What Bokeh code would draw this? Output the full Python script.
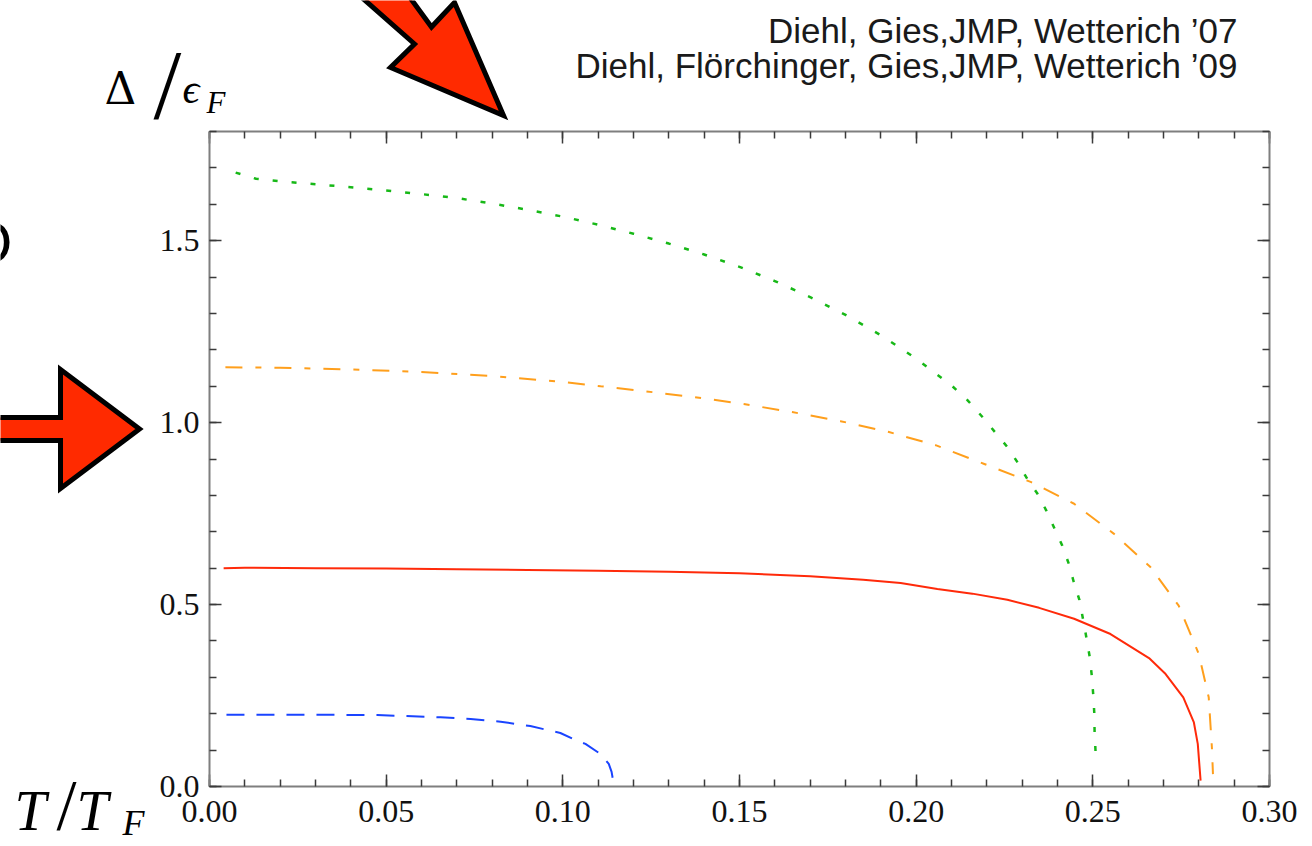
from bokeh.plotting import figure
from bokeh.models import Range1d, FixedTicker, LinearAxis, Label, PolyAnnotation
from bokeh.embed import file_html
from bokeh.resources import INLINE

# ---------------- data ----------------
x_ticks = [0.0, 0.05, 0.10, 0.15, 0.20, 0.25, 0.30]
x_tick_labels = ["0.00", "0.05", "0.10", "0.15", "0.20", "0.25", "0.30"]
y_ticks = [0.0, 0.5, 1.0, 1.5]
y_tick_labels = ["0.0", "0.5", "1.0", "1.5"]

blue_T = [0.0048, 0.02, 0.035, 0.0475, 0.0654, 0.0739, 0.0824, 0.0908, 0.0993,
          0.1031, 0.1064, 0.1107, 0.113, 0.1138, 0.1142]
blue_D = [0.1974, 0.1972, 0.1969, 0.1965, 0.190, 0.1855, 0.178, 0.166, 0.147,
          0.130, 0.117, 0.089, 0.062, 0.040, 0.018]

red_T = [0.004, 0.01, 0.03, 0.05, 0.07, 0.09, 0.11, 0.13, 0.15, 0.17, 0.185,
         0.1956, 0.206, 0.2159, 0.2258, 0.2348, 0.2447, 0.255, 0.2659, 0.2706,
         0.2756, 0.2786, 0.2797, 0.2805]
red_D = [0.600, 0.601, 0.600, 0.599, 0.597, 0.595, 0.593, 0.590, 0.586, 0.578,
         0.568, 0.559, 0.543, 0.530, 0.513, 0.491, 0.461, 0.419, 0.353, 0.309,
         0.245, 0.176, 0.117, 0.016]

orange_T = [0.0045, 0.02, 0.04, 0.06, 0.08, 0.10, 0.1107, 0.1234, 0.1374, 0.1512,
            0.1649, 0.1786, 0.1923, 0.2055, 0.2191, 0.2324, 0.2447, 0.2559, 0.2663,
            0.2743, 0.2800, 0.2828, 0.2837, 0.2840]
orange_D = [1.152, 1.151, 1.146, 1.139, 1.128, 1.112, 1.100, 1.086, 1.070, 1.051,
            1.029, 1.004, 0.974, 0.938, 0.887, 0.837, 0.777, 0.695, 0.603,
            0.497, 0.364, 0.245, 0.107, 0.034]

green_T = [0.0074, 0.0132, 0.02, 0.03, 0.04, 0.05, 0.06, 0.07, 0.08, 0.09, 0.10,
           0.11, 0.12, 0.13, 0.14, 0.15, 0.16, 0.17, 0.18, 0.19, 0.20, 0.21,
           0.2145, 0.2187, 0.2223, 0.2258, 0.2286, 0.2314, 0.2343, 0.2368, 0.2392,
           0.2413, 0.2432, 0.2446, 0.2462, 0.2472, 0.2482, 0.2491, 0.2497, 0.2501,
           0.2504, 0.2505, 0.2508]
green_D = [1.687, 1.670, 1.663, 1.655, 1.647, 1.638, 1.628, 1.617, 1.602, 1.585, 1.566,
           1.544, 1.519, 1.492, 1.462, 1.428, 1.389, 1.345, 1.296, 1.240, 1.176, 1.102,
           1.062, 1.016, 0.974, 0.933, 0.892, 0.846, 0.805, 0.759, 0.708,
           0.663, 0.612, 0.562, 0.513, 0.461, 0.408, 0.357, 0.305, 0.254,
           0.204, 0.149, 0.090]

citations = ["Diehl, Gies,JMP, Wetterich \u201907",
             "Diehl, Fl\u00f6rchinger, Gies,JMP, Wetterich \u201909"]

# ---------------- layout ----------------
W, H = 1312, 846
FL, FR, FT, FB = 209, 1269, 131, 786          # pixel box of the data axes
X0, X1, Y0, Y1 = 0.0, 0.30, 0.0, 1.8


def dx(px):
    return X0 + (px - FL) / (FR - FL) * (X1 - X0)


def dy(py):
    return Y0 + (FB - py) / (FB - FT) * (Y1 - Y0)


# the frame spans the whole canvas; the axes sit at fixed data locations
p = figure(width=W, height=H,
           x_range=Range1d(dx(0), dx(W)), y_range=Range1d(dy(H), dy(0)),
           output_backend="svg", toolbar_location=None,
           x_axis_type=None, y_axis_type=None,
           min_border=0, min_border_left=0, min_border_right=0,
           min_border_top=0, min_border_bottom=0)
p.outline_line_color = None
p.xgrid.visible = False
p.ygrid.visible = False
p.background_fill_color = "white"
p.border_fill_color = "white"

x_minor = [round(i * 0.01, 2) for i in range(31)]
y_minor = [round(i * 0.1, 1) for i in range(19)]


def style(ax, ticks, labels, show):
    ax.axis_line_color = "#7f7f7f"
    ax.axis_line_width = 2
    ax.major_tick_in = 12
    ax.major_tick_out = 0
    ax.minor_tick_in = 7
    ax.minor_tick_out = 0
    ax.major_tick_line_color = "#3a3a3a"
    ax.minor_tick_line_color = "#3a3a3a"
    ax.major_tick_line_width = 1.5
    ax.minor_tick_line_width = 1.5
    ax.major_label_text_font = "Liberation Serif"
    ax.major_label_text_color = "#111111"
    if show:
        ax.major_label_overrides = {t: l for t, l in zip(ticks, labels)}
        ax.major_label_text_font_size = "32px"
    else:
        ax.major_label_overrides = {t: "" for t in ticks}
        ax.major_label_text_font_size = "0px"


xb = LinearAxis(ticker=FixedTicker(ticks=x_ticks, minor_ticks=x_minor),
                fixed_location=Y0, bounds=(X0, X1))
style(xb, x_ticks, x_tick_labels, True)
xb.major_label_standoff = 14
p.add_layout(xb, "below")

xa = LinearAxis(ticker=FixedTicker(ticks=x_ticks, minor_ticks=x_minor),
                fixed_location=Y1, bounds=(X0, X1))
style(xa, x_ticks, x_tick_labels, False)
p.add_layout(xa, "above")

yl = LinearAxis(ticker=FixedTicker(ticks=y_ticks, minor_ticks=y_minor),
                fixed_location=X0, bounds=(Y0, Y1))
style(yl, y_ticks, y_tick_labels, True)
yl.major_label_standoff = 10
p.add_layout(yl, "left")

yr = LinearAxis(ticker=FixedTicker(ticks=y_ticks, minor_ticks=y_minor),
                fixed_location=X1, bounds=(Y0, Y1))
style(yr, y_ticks, y_tick_labels, False)
p.add_layout(yr, "right")

# ---------------- curves ----------------
p.line(blue_T, blue_D, line_color="#1a44ff", line_width=2, line_dash="18 12")
p.line(red_T, red_D, line_color="#ff2a0a", line_width=2)
p.line(orange_T, orange_D, line_color="#ff9f1c", line_width=2, line_dash="17 13 6 13")
p.line(green_T, green_D, line_color="#17b817", line_width=2.5, line_dash="5 14")


# ---------------- texts ----------------
def lab(px, baseline, text, font, size, style="normal", align="left", color="#000000"):
    # position given as the pixel baseline; label anchored at its middle
    mid = baseline - 0.34 * size
    p.add_layout(Label(x=dx(px), y=dy(mid), text=text, text_font=font,
                       text_font_size=f"{size}px", text_font_style=style,
                       text_align=align, text_baseline="middle",
                       text_color=color))


lab(104, 103, "\u0394", "DejaVu Serif", 44)
lab(153, 118, "/", "Liberation Serif", 100)
lab(182, 103, "\u03f5", "Liberation Serif", 42, "italic")
lab(206, 113, "F", "Liberation Serif", 31, "italic")

lab(14, 829, "T", "Liberation Serif", 57, "italic")
lab(56, 829, "/", "Liberation Serif", 72)
lab(76, 829, "T", "Liberation Serif", 57, "italic")
lab(122, 835, "F", "Liberation Serif", 36, "italic")

lab(1237, 42, citations[0], "Liberation Sans", 35, align="right", color="#1a1a1a")
lab(1237, 77, citations[1], "Liberation Sans", 35, align="right", color="#1a1a1a")

# partial letter at the left edge
lab(12, 262, "O", "Liberation Sans", 60, align="right")

# ---------------- arrows ----------------
arrow_fill = "#ff2a00"
top_px = [(342, -20), (414, 43.5), (390, 67), (503, 115), (454, 2), (431, 26.5), (397, -20)]
left_px = [(-10, 417), (60, 417), (60, 369), (139, 428.5), (60, 488), (60, 440), (-10, 440)]
for pts in (top_px, left_px):
    p.add_layout(PolyAnnotation(xs=[dx(a) for a, b in pts], ys=[dy(b) for a, b in pts],
                                fill_color=arrow_fill, fill_alpha=1.0,
                                line_color="black", line_width=5, line_alpha=1.0,
                                line_join="miter"))

open("out.html", "w").write(file_html(p, INLINE))
